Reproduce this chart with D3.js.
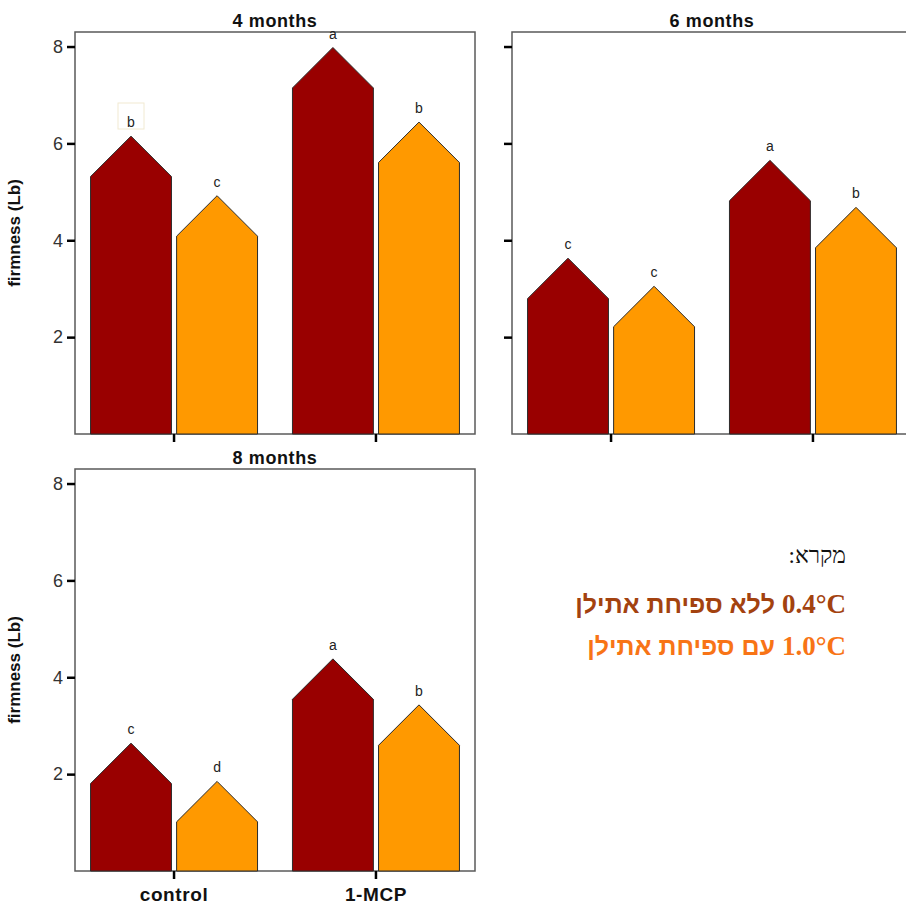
<!DOCTYPE html>
<html>
<head>
<meta charset="utf-8">
<script src="https://cdn.jsdelivr.net/npm/d3@7"></script>
<style>
  html, body { margin: 0; padding: 0; background: #fff; }
  svg { display: block; }
</style>
</head>
<body>
<svg id="chart" width="906" height="906"></svg>
<script>
// Firmness (Lb) by treatment and storage temperature, per storage duration
const categories = ["control", "1-MCP"];
const series = ["0.4°C", "1.0°C"];
const panelTitles = ["4 months", "6 months", "8 months"];
const yTicks = [2, 4, 6, 8];

// values at the top (apex) of each bar: [control, 1-MCP]
const values4m_04 = [6.15, 7.98];
const values4m_10 = [4.92, 6.44];
const values6m_04 = [3.63, 5.65];
const values6m_10 = [3.05, 4.68];
const values8m_04 = [2.64, 4.38];
const values8m_10 = [1.85, 3.43];

// significance letters: [control, 1-MCP]
const letters4m_04 = ["b", "a"];
const letters4m_10 = ["c", "b"];
const letters6m_04 = ["c", "a"];
const letters6m_10 = ["c", "b"];
const letters8m_04 = ["c", "a"];
const letters8m_10 = ["d", "b"];

const legendTitle = "מקרא:";
const legendTemps = ["0.4°C", "1.0°C"];
const legendTexts = ["ללא ספיחת אתילן", "עם ספיחת אתילן"];

const colors = ["#990000", "#ff9900"];
const legendColors = ["#a3420f", "#f87416"];

const SANS = "Liberation Sans, Arial, sans-serif";
const svg = d3.select("#chart");

function buildRows(v04, v10, l04, l10) {
  const rows = [];
  categories.forEach((c, i) => {
    rows.push({ cat: c, ser: series[0], value: v04[i], letter: l04[i] });
    rows.push({ cat: c, ser: series[1], value: v10[i], letter: l10[i] });
  });
  return rows;
}

const panels = [
  { title: panelTitles[0], rows: buildRows(values4m_04, values4m_10, letters4m_04, letters4m_10),
    left: 75, top: 32, tickLabels: true, xLabels: false, yTitle: true },
  { title: panelTitles[1], rows: buildRows(values6m_04, values6m_10, letters6m_04, letters6m_10),
    left: 512, top: 32, tickLabels: false, xLabels: false, yTitle: false },
  { title: panelTitles[2], rows: buildRows(values8m_04, values8m_10, letters8m_04, letters8m_10),
    left: 75, top: 469, tickLabels: true, xLabels: true, yTitle: true }
];

const W = 400, H = 402;

panels.forEach(p => {
  const g = svg.append("g").attr("transform", `translate(${p.left},${p.top})`);

  const x0 = d3.scaleBand().domain(categories).range([0, W])
    .paddingInner(0.173).paddingOuter(0.077);
  const x1 = d3.scaleBand().domain(series).range([0, x0.bandwidth()])
    .paddingInner(0.06).paddingOuter(0);
  const y = d3.scaleLinear().domain([0, 8.3]).range([H, 0]);

  // frame
  g.append("rect").attr("x", 0).attr("y", 0).attr("width", W).attr("height", H)
    .attr("fill", "none").attr("stroke", "#5a5a5a").attr("stroke-width", 1.5);

  // house-shaped bars: 45° roof whose apex sits at the value
  const bw = x1.bandwidth();
  const color = d3.scaleOrdinal().domain(series).range(colors);
  g.selectAll("path.bar").data(p.rows).join("path")
    .attr("class", "bar")
    .attr("d", d => {
      const xl = x0(d.cat) + x1(d.ser);
      const xr = xl + bw;
      const apex = y(d.value);
      const shoulder = apex + bw / 2;
      return `M${xl},${y(0)}L${xl},${shoulder}L${xl + bw / 2},${apex}L${xr},${shoulder}L${xr},${y(0)}Z`;
    })
    .attr("fill", d => color(d.ser))
    .attr("stroke", "#2b2b2b").attr("stroke-width", 1);

  // significance letters
  g.selectAll("text.letter").data(p.rows).join("text")
    .attr("class", "letter")
    .attr("x", d => x0(d.cat) + x1(d.ser) + bw / 2)
    .attr("y", d => y(d.value) - 9)
    .attr("text-anchor", "middle")
    .attr("font-family", SANS)
    .attr("font-size", 14).attr("fill", "#222")
    .text(d => d.letter);

  // y axis
  const yAxis = d3.axisLeft(y).tickValues(yTicks).tickSize(8).tickPadding(4)
    .tickFormat(p.tickLabels ? d3.format("d") : () => "");
  const ya = g.append("g").call(yAxis);
  ya.select(".domain").remove();
  ya.selectAll(".tick line").attr("stroke", "#000").attr("stroke-width", 2.5);
  ya.selectAll(".tick text").attr("font-family", SANS)
    .attr("font-size", 18).attr("fill", "#333");

  // x axis
  const xAxis = d3.axisBottom(x0).tickSize(8).tickPadding(9)
    .tickFormat(p.xLabels ? (d => d) : () => "");
  const xa = g.append("g").attr("transform", `translate(0,${H})`).call(xAxis);
  xa.select(".domain").remove();
  xa.selectAll(".tick line").attr("stroke", "#000").attr("stroke-width", 2.5);
  xa.selectAll(".tick text").attr("font-family", SANS)
    .attr("font-size", 19).attr("font-weight", "bold").attr("fill", "#111")
    .attr("letter-spacing", 0.6);

  // title
  g.append("text").attr("x", W / 2).attr("y", -5).attr("text-anchor", "middle")
    .attr("font-family", SANS)
    .attr("font-size", 18).attr("font-weight", "bold").attr("fill", "#111")
    .attr("letter-spacing", 0.6)
    .text(p.title);

  if (p.yTitle) {
    g.append("text")
      .attr("transform", `translate(-55,${H / 2}) rotate(-90)`)
      .attr("text-anchor", "middle")
      .attr("font-family", SANS)
      .attr("font-size", 17).attr("font-weight", "bold").attr("fill", "#111")
      .text("firmness (Lb)");
  }
});

// faint highlight box near the first letter of the 4-month panel
svg.append("rect").attr("x", 118).attr("y", 103).attr("width", 26).attr("height", 26)
  .attr("fill", "none").attr("stroke", "#f1ead2").attr("stroke-width", 1);

// legend
const legendRight = 846;
svg.append("text").attr("x", legendRight).attr("y", 563)
  .attr("direction", "rtl").attr("text-anchor", "start")
  .attr("font-family", "Liberation Serif, DejaVu Serif, serif")
  .attr("font-size", 23).attr("fill", "#111")
  .text(legendTitle);

legendTemps.forEach((t, i) => {
  const yy = 613 + i * 42;
  const temp = svg.append("text").attr("x", legendRight).attr("y", yy)
    .attr("text-anchor", "end")
    .attr("font-family", "Liberation Serif, serif")
    .attr("font-size", 27).attr("font-weight", "bold")
    .attr("fill", legendColors[i])
    .text(t);
  const tw = temp.node().getComputedTextLength();
  svg.append("text").attr("x", legendRight - tw - 7).attr("y", yy)
    .attr("direction", "rtl").attr("text-anchor", "start")
    .attr("font-family", SANS)
    .attr("font-size", 25).attr("font-weight", "bold")
    .attr("fill", legendColors[i])
    .text(legendTexts[i]);
});
</script>
</body>
</html>
